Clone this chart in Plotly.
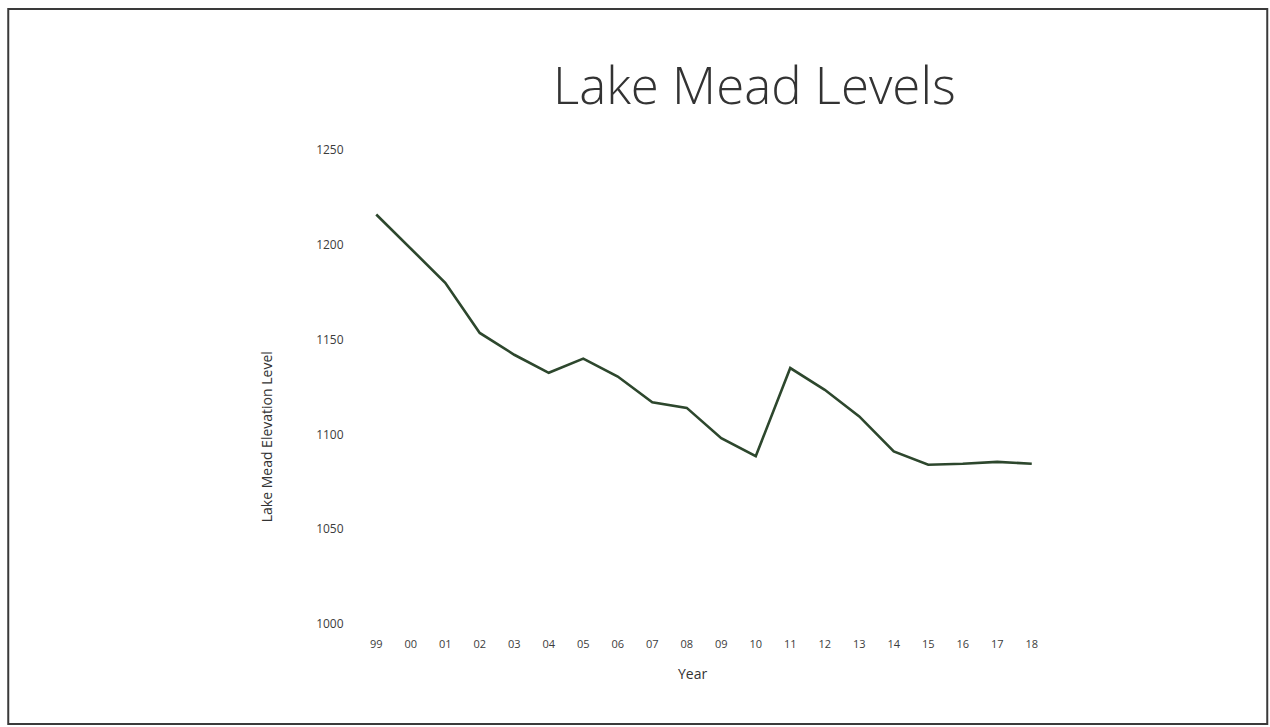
import plotly.graph_objects as go

years = ["99", "00", "01", "02", "03", "04", "05", "06", "07", "08",
         "09", "10", "11", "12", "13", "14", "15", "16", "17", "18"]
levels = [1216, 1198, 1180, 1153.5, 1142, 1132.5, 1140, 1130.5, 1117, 1114,
          1098, 1088.5, 1135, 1123.5, 1109.5, 1091, 1084, 1084.5, 1085.5, 1084.5]
y_ticks = [1000, 1050, 1100, 1150, 1200, 1250]

W, H = 1270, 727
L, R = 358.75, 1048.75   # plot area pixel edges
T, B = 150, 624

def px(xp):
    return (xp - L) / (R - L)

def py(yp):
    return (B - yp) / (B - T)

fig = go.Figure()
fig.add_trace(go.Scatter(
    x=years, y=levels, mode="lines",
    line=dict(color="#2d472d", width=2.6),
    hoverinfo="x+y", showlegend=False,
))

font_main = "Open Sans, Lato, sans-serif"

fig.update_layout(
    width=W, height=H,
    margin=dict(l=L, r=W - R, t=T, b=H - B, pad=0),
    paper_bgcolor="white", plot_bgcolor="white",
    font=dict(family=font_main, color="#404040", size=11),
    xaxis=dict(
        type="category", range=[-0.5, len(years) - 0.5],
        showgrid=False, zeroline=False, showline=False,
        ticks="outside", ticklen=10, tickcolor="rgba(0,0,0,0)",
        tickfont=dict(size=11, color="#3c3c3c"),
    ),
    yaxis=dict(
        range=[y_ticks[0], y_ticks[-1]], tickvals=y_ticks,
        showgrid=False, zeroline=False, showline=False,
        ticks="outside", ticklen=12, tickcolor="rgba(0,0,0,0)",
        tickfont=dict(size=12, color="#3c3c3c"),
    ),
    annotations=[
        dict(text="Lake Mead Levels", xref="paper", yref="paper",
             x=px(754), y=py(84), xanchor="center", yanchor="middle",
             showarrow=False,
             font=dict(size=51, color="#333333", family=font_main, weight=300)),
        dict(text="Year", xref="paper", yref="paper",
             x=px(692), y=py(673), xanchor="center", yanchor="middle",
             showarrow=False, font=dict(size=14, color="#333333", family=font_main)),
        dict(text="Lake Mead Elevation Level", xref="paper", yref="paper",
             x=px(266), y=py(437), xanchor="center", yanchor="middle", textangle=-90,
             showarrow=False, font=dict(size=14, color="#333333", family=font_main)),
    ],
    shapes=[
        dict(type="rect", xref="paper", yref="paper",
             x0=px(8), x1=px(1267), y0=py(724), y1=py(9),
             line=dict(color="#3a3a3a", width=2), fillcolor="rgba(0,0,0,0)", layer="below"),
    ],
)

fig.write_html("out.html", config={"displayModeBar": False},
               post_script="document.body.style.margin='0';")
